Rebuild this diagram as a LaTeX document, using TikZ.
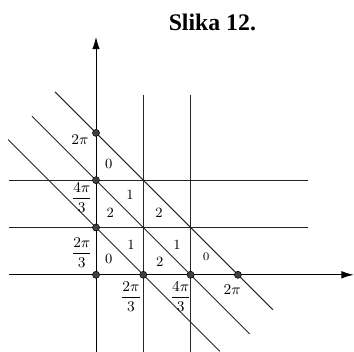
\documentclass[tikz,border=0pt]{standalone}
\usepackage{fontspec}
\usepackage{amsmath}
\newfontfamily\titlefont{Liberation Serif}
\usetikzlibrary{arrows.meta}
\tikzset{
  ln/.style={line width=0.55pt, draw=black!85},
  ax/.style={line width=0.6pt, draw=black, -{Latex[length=2.6mm,width=1.6mm]}},
  dot/.style={circle, fill=black!75, draw=black, line width=0.3pt, inner sep=0pt, minimum size=1.5mm},
  lab/.style={font=\fontsize{9}{10}\selectfont, inner sep=0pt},
  reg/.style={font=\fontsize{8.5}{10}\selectfont, inner sep=0pt},
}
\begin{document}
\begin{tikzpicture}[x=1cm,y=1cm]
\useasboundingbox (-2.03,-1.63) rectangle (5.455,5.81);
% title
\node[font=\titlefont\bfseries\fontsize{14.3}{16}\selectfont, inner sep=0pt] (title) at (2.46,5.33) {Slika 12.};
% endpoints
\coordinate (xl) at (-1.84,0); \coordinate (xr) at (5.45,0);
\coordinate (yb) at (0,-1.63); \coordinate (yt) at (0,5.03);
\coordinate (v1t) at (1,3.81); \coordinate (v1b) at (1,-1.63);
\coordinate (v2t) at (2,3.81); \coordinate (v2b) at (2,-1.63);
\coordinate (h1l) at (-1.84,1); \coordinate (h1r) at (4.48,1);
\coordinate (h2l) at (-1.84,2); \coordinate (h2r) at (4.48,2);
\coordinate (d3a) at (-0.867,3.867); \coordinate (d3b) at (3.74,-0.74);
\coordinate (d2a) at (-1.353,3.353); \coordinate (d2b) at (3.25,-1.25);
\coordinate (d1a) at (-1.86,2.86); \coordinate (d1b) at (2.62,-1.62);
% grid lines
\draw[ln] (v1t) -- (v1b);
\draw[ln] (v2t) -- (v2b);
\draw[ln] (h1l) -- (h1r);
\draw[ln] (h2l) -- (h2r);
\draw[ln] (d3a) -- (d3b);
\draw[ln] (d2a) -- (d2b);
\draw[ln] (d1a) -- (d1b);
% axes
\draw[ax] (xl) -- (xr);
\draw[ax] (yb) -- (yt);
% dots
\node[dot] (o) at (0,0) {};
\node[dot] (x1) at (1,0) {};
\node[dot] (x2) at (2,0) {};
\node[dot] (x3) at (3,0) {};
\node[dot] (y1) at (0,1) {};
\node[dot] (y2) at (0,2) {};
\node[dot] (y3) at (0,3) {};
% axis labels
\node[lab] (ly3) at (-0.34,2.85) {$2\pi$};
\node[lab] (ly2) at (-0.3,1.63) {$\dfrac{4\pi}{3}$};
\node[lab] (ly1) at (-0.3,0.47) {$\dfrac{2\pi}{3}$};
\node[lab] (lx1) at (0.74,-0.46) {$\dfrac{2\pi}{3}$};
\node[lab] (lx2) at (1.79,-0.46) {$\dfrac{4\pi}{3}$};
\node[lab] (lx3) at (2.88,-0.32) {$2\pi$};
% region numbers
\node[reg] (r1) at (0.27,2.35) {0};
\node[reg] (r2) at (0.72,1.69) {1};
\node[reg] (r3) at (0.3,1.31) {2};
\node[reg] (r4) at (1.33,1.31) {2};
\node[reg] (r5) at (0.74,0.63) {1};
\node[reg] (r6) at (0.27,0.34) {0};
\node[reg] (r7) at (1.71,0.63) {1};
\node[reg] (r8) at (1.35,0.28) {2};
\node[reg, font=\fontsize{7}{8}\selectfont] (r9) at (2.33,0.39) {0};
\end{tikzpicture}
\end{document}
